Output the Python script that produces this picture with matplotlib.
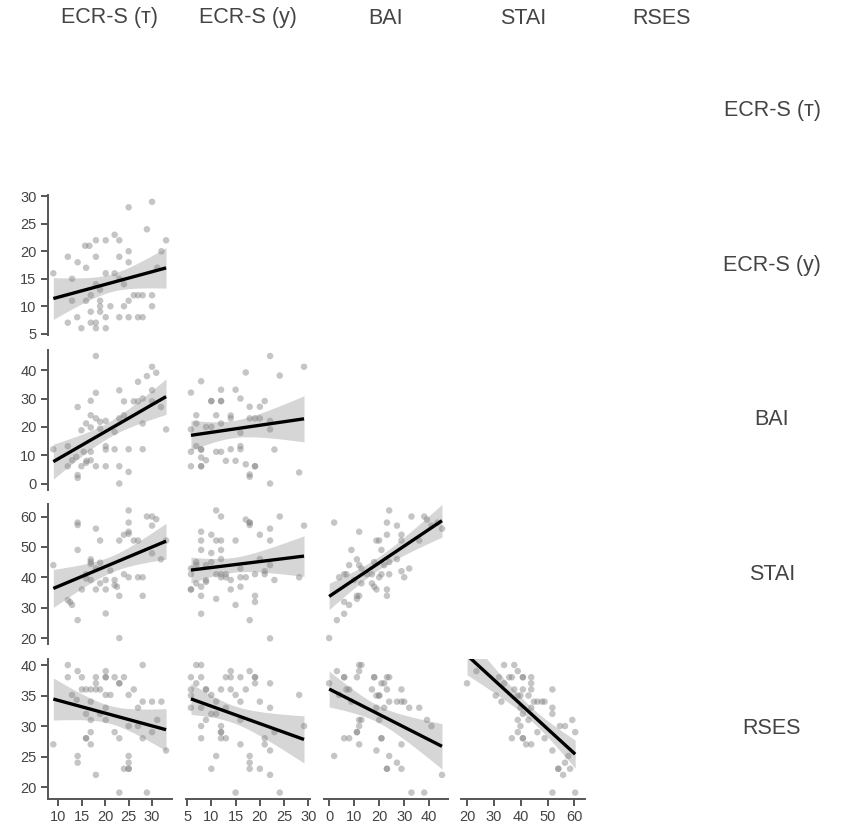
import numpy as np
import matplotlib
matplotlib.use("Agg")
import matplotlib.pyplot as plt

plt.rcParams['font.family'] = ['Liberation Sans', 'DejaVu Sans']

VARIABLES = ["ECR-S (т)", "ECR-S (у)", "BAI", "STAI", "RSES"]

# tick values per variable
TICKS = {
    "ECR-S (т)": [10, 15, 20, 25, 30],
    "ECR-S (у)": [5, 10, 15, 20, 25, 30],
    "BAI": [0, 10, 20, 30, 40],
    "STAI": [20, 30, 40, 50, 60],
    "RSES": [20, 25, 30, 35, 40],
}

# points (x, y) for each lower-triangle panel: (row variable, column variable)
ECRY_vs_ECRT = [(8.9,16),(12,19),(14.1,18),(12.9,15),(12.9,11),(12,7),(14,8),(14.9,6),
    (15.7,21),(16.6,21),(18,22),(15.9,17),(18,19),(15.9,11),(16.9,12),(16.9,9),(16.9,7),(18,7),
    (18,6),(18,14),(18.9,13),(18.9,11),(18.9,10),(18.9,9),(20.1,22),(20.1,16),(20.1,8),(20.1,6),
    (21.1,10),(22,23),(23,22),(22,16),(23,15),(24,14),(23,19),(23,8),(24,10),(25,20),
    (25,18),(25,28),(25,11),(25,8),(26.1,12),(27,12),(28,12),(27,8),(28,8),(28.9,24),
    (30,29),(30,12),(30,10),(31.1,17),(32,20),(33,22)]

BAI_vs_ECRT = [(8.9,12.1),(12,13.2),(12,6.1),(14.1,27),(12.9,8.2),(13.8,9.4),(14.1,3),(14.1,2),
    (14.9,18.8),(15.4,11.2),(14.9,6.1),(15.9,21.2),(15.9,7.3),(16,8),(16.9,29.2),(16.9,24.1),
    (16.9,19.8),(16.9,11.2),(16.9,8.2),(18,45),(18,32),(18,23),(18,6.1),(18.9,19.4),(18.9,21.8),
    (20.1,22.1),(20.1,13.2),(20.1,12),(20.1,6.1),(22,18.2),(22,12.1),(23,32.9),(23,23),(23,6.1),
    (23,0),(24,29),(24,24.1),(25,12.1),(25,4.1),(26.1,29),(27,35.9),(27,29),(28,30),(28,21.2),
    (28,12.1),(28.9,37.9),(30,41.2),(30,32.9),(30.9,39.1),(31.9,27),(33,19.1),(30,29)]

BAI_vs_ECRY = [(22.1,45),(29.1,41.2),(17.1,39.2),(24.1,38.1),(7.9,36.1),(5.8,32.1),(12,33.1),
    (15,33.1),(10,29.1),(10,29.1),(12,29.1),(12,29.1),(16,30),(17.9,27.1),(20,27.1),(21,29.1),(6.9,24.1),
    (11,24.1),(14,24),(14,23),(17.9,23),(19,23),(20,23),(22.1,22.1),(6.9,21.2),(5.8,19.1),
    (8.9,20),(10,20),(12,21.2),(16,17.9),(22.1,19.1),(6.9,13.2),(7.9,12),(7.9,12),(5.8,11.2),(11,11.2),
    (12,11.2),(14,12.1),(16,13.2),(16,12.1),(23,12),(7.9,9.2),(8.9,8.2),(13,8),(15,8),(17.1,6.8),
    (5.8,6.1),(7.9,6.1),(7.9,6.1),(19,6.1),(19,6.1),(17.9,3.2),(17.9,2.4),(22.1,0),(28.1,3.9)]

STAI_vs_ECRT = [(8.9,44),(12,32.5),(12.5,31.8),(12.9,30.9),(14.1,58),(14.1,57.2),(14.1,49),
    (14.1,25.9),(15,36),(15.9,41),(15.9,39.6),(16.9,45.9),(16.9,45.1),(16.9,44.4),(16.9,39.1),
    (18,56),(18,36),(18,42.9),(18.9,52.1),(18.9,44.8),(18.9,38),(20.1,39.1),(20.1,36),(20.1,28.1),
    (21.1,42.2),(22,39.1),(22,37.4),(22.5,36.9),(23,52.1),(23,33.9),(23,20),(24,54),(24,41),
    (25,62),(25,58),(25,55),(25,54.3),(25,40),(26.1,52.1),(27,52.1),(27,40),(28,40),(28,33.9),
    (28.9,60),(30,60),(30,57),(30.9,59.1),(30,47.9),(31.9,45.9),(33,52.1)]

STAI_vs_ECRY = [(11,62),(12,60),(17.1,59),(17.9,58),(17.9,58),(17.9,57.2),(24.1,60),(29.1,57),
    (22.1,56),(7.9,55),(10,54),(20,54),(7.9,52.1),(11,52.1),(12,52.1),(15,52.1),(22.1,52.1),
    (7.9,49),(12,49),(10,48),(12,46),(6.9,45),(6.9,44),(10,45),(8.9,44),(20,46),(22.1,44),
    (5.8,42.9),(5.8,41),(11,41),(12,41),(13,41),(12,40),(13,40),(14,39.1),(16,42.9),(16,40),
    (17.1,40),(19,41),(21,42),(21,41),(23,39.1),(28.1,40),(6.9,38),(8.9,39),(8.9,38.5),
    (7.9,36.9),(5.8,36),(5.8,36),(14,36),(16,36.9),(7.9,33.9),(11,32.9),(19,33.9),(19,31.9),
    (15,30.9),(7.9,28),(17.9,25.9),(22.1,19.9)]

STAI_vs_BAI = [(0,20),(3.1,25.9),(6,28),(6,31.9),(8,30.9),(2,58),(11.1,32.9),(11.1,33.9),
    (12,33.9),(12,55),(8.9,49),(4,40),(6,41),(6.9,41),(8,44),(11.1,45.9),(12,44),(12.9,42.9),
    (12.9,38),(10,39.1),(15.1,41),(17.1,38),(18,36.9),(18.9,36),(17.1,41),(18.9,52.1),(20,52.1),
    (20.9,49),(18,45),(20,40),(20.9,41),(22,44),(23.1,58),(23.1,54),(23.1,36),(23.1,33.9),
    (24,62),(24,45),(24,41),(27.1,57),(27.1,46),(28.9,54),(28.9,52.1),(28.9,42),(30,40),
    (32,42.9),(32.9,60),(36,52.1),(38,60),(39.1,59),(40.9,57),(45.1,56),(43.3,58)]

RSES_vs_ECRT = [(8.9,27),(12,40),(12,38),(12.9,35.1),(13.9,34.3),(14.1,39),(14.1,25.1),(14.1,24),
    (15,38),(15,36),(15.9,36),(16.9,36),(18,36),(18.9,36),(15.9,32),(15.9,28),(15.9,28),(16.9,34),
    (16.9,31),(16.9,29),(16.9,27),(18,38),(18,37),(18,22),(18.9,32),(20.1,39),(20.1,38),(20.1,38),
    (20.1,35.1),(21.1,35.1),(20.1,33),(20.1,31),(22,38),(22,29),(23,37),(23,37),(23,28),(23,19.1),
    (24,38),(24,23),(25,23),(25,23),(25,35.1),(25,30),(25,25.1),(25,24),(26.1,36),(27,33),(27,30),
    (28,40),(28,34),(28,28),(28.9,19.1),(30,34),(30,29),(31.1,31),(32,34),(33,26)]

RSES_vs_ECRY = [(6.9,40),(7.9,40),(5.8,38),(7.9,38),(6.9,37),(5.8,36),(5.8,35),(5.8,33),
    (8.9,36),(8.9,36),(10,35.1),(7.9,33),(11,34),(10,32),(11,32),(8.9,31),(7.9,30),(7.9,28),(12,36),
    (13,38),(14,38),(14,39),(14,36),(13,33),(15,35.1),(16,38),(16,34),(17.1,36),(17.9,39),
    (19,38),(19,38),(19,37),(20,34),(22.1,37),(22.1,33),(12,30),(12,29),(12,29),(12,28),(13,28),(16,31),
    (16,27),(11,25.1),(10,23),(17.9,25.1),(17.9,24),(17.9,23),(20,23),(21,28),(21,27),
    (22.1,26),(22.1,22),(23,29),(28.1,35.1),(29.1,30),(15,19.1),(24.1,19.1)]

RSES_vs_BAI = [(0,37),(2,25.1),(3.1,39),(6,38),(6,38),(6.9,36),(8,36),(4,35.1),(6,28),(8,28),
    (11.1,38),(12,40),(12.9,40),(12,39),(8.9,34),(12,31),(12.9,31),(12,30),(11.1,29),(11.1,29),(12,27),
    (18,38),(18,38),(17.1,36),(18.9,35),(20,35),(20,35),(20.9,37),(22,37),(23.1,38),(24,38),(23.1,36),
    (24,34),(18.9,33),(22,33),(20,31),(20.9,28),(20.9,28),(18.9,26),(24,25.1),(23.1,23),(23.1,23),
    (27.1,34),(28.9,34),(30,34),(28.9,36),(27.1,24),(28.9,23),(28.9,27),(32,33),(36,33),
    (39.1,31),(40.9,30),(32.9,19.1),(38,19.1),(45.1,22)]

RSES_vs_STAI = [(20,37),(23.5,39),(33.8,40),(37.6,40),(38.9,39),(31.9,38),(35.7,38),(36.7,38),
    (40.8,38),(40.8,38),(43.9,38),(43.9,37),(43.9,36),(33.8,37),(37.6,36),(40.8,36),(39.9,35),(38.9,35),
    (30.7,35),(32.8,34),(42.9,35),(44.9,34),(46.2,34),(47.9,34),(48.9,34),(51.8,36),(39.9,33),
    (43.9,33),(40.8,32),(51.8,33),(51.8,32),(38.9,31),(42.9,31),(39.9,30),(38.9,29),(46.2,29),
    (36.7,28),(40.8,28),(40.8,28),(42,27),(43.9,27),(48.9,28),(54.6,30),(56.5,30),(59.2,31),(60.3,29),
    (51.8,26),(57.7,25.1),(56.5,24),(54,23),(54,23),(58.4,23),(55.8,22),(51.8,19.1),(60.3,19.1)]

PANELS = {
    (1, 0): ECRY_vs_ECRT,
    (2, 0): BAI_vs_ECRT, (2, 1): BAI_vs_ECRY,
    (3, 0): STAI_vs_ECRT, (3, 1): STAI_vs_ECRY, (3, 2): STAI_vs_BAI,
    (4, 0): RSES_vs_ECRT, (4, 1): RSES_vs_ECRY, (4, 2): RSES_vs_BAI, (4, 3): RSES_vs_STAI,
}

# ---------------- layout / style ----------------
W, H = 841, 836
LIMS = {
    "ECR-S (т)": (7.7, 34.2),
    "ECR-S (у)": (4.7, 30.25),
    "BAI": (-2.25, 47.3),
    "STAI": (17.9, 64.1),
    "RSES": (18.05, 41.05),
}
col_left0, col_pitch, ax_w = 47.7, 137.9, 124.0
row_top0, row_pitch, ax_h = 40.4, 154.55, 140.4
GREY = "#555555"
TXT = "#444444"

fig = plt.figure(figsize=(W / 100, H / 100), dpi=100)

def ci_band(x, y, xs, t=2.01):
    b1, b0 = np.polyfit(x, y, 1)
    n = len(x)
    resid = y - (b0 + b1 * x)
    s = np.sqrt(np.sum(resid ** 2) / (n - 2))
    sxx = np.sum((x - x.mean()) ** 2)
    se = s * np.sqrt(1.0 / n + (xs - x.mean()) ** 2 / sxx)
    yh = b0 + b1 * xs
    return yh, yh - t * se, yh + t * se

for (r, c), pts in PANELS.items():
    left = col_left0 + c * col_pitch
    top = row_top0 + r * row_pitch
    ax = fig.add_axes([left / W, 1 - (top + ax_h) / H, ax_w / W, ax_h / H])
    arr = np.array(pts, dtype=float)
    x, y = arr[:, 0], arr[:, 1]
    ax.scatter(x, y, s=22, color="#808080", alpha=0.45, edgecolors="none", zorder=2)
    xs = np.linspace(x.min(), x.max(), 100)
    yh, lo, hi = ci_band(x, y, xs)
    ax.fill_between(xs, lo, hi, color="black", alpha=0.16, linewidth=0, zorder=1)
    ax.plot(xs, yh, color="black", lw=2.4, zorder=3, solid_capstyle="butt")
    vx, vy = VARIABLES[c], VARIABLES[r]
    ax.set_xlim(*LIMS[vx])
    ax.set_ylim(*LIMS[vy])
    for s in ("top", "right"):
        ax.spines[s].set_visible(False)
    if c == 0:
        ax.spines["left"].set_color(GREY)
        ax.spines["left"].set_linewidth(1.4)
        ax.set_yticks(TICKS[vy])
        ax.tick_params(axis="y", direction="out", length=5, width=1.4, color=GREY,
                       labelcolor=TXT, labelsize=10.5, pad=3)
    else:
        ax.spines["left"].set_visible(False)
        ax.set_yticks([])
    if r == 4:
        ax.spines["bottom"].set_color(GREY)
        ax.spines["bottom"].set_linewidth(1.4)
        ax.set_xticks(TICKS[vx])
        ax.tick_params(axis="x", direction="out", length=5, width=1.4, color=GREY,
                       labelcolor=TXT, labelsize=10.5, pad=3)
    else:
        ax.spines["bottom"].set_visible(False)
        ax.set_xticks([])
    ax.patch.set_alpha(0)

for i, name in enumerate(VARIABLES):
    cx = col_left0 + i * col_pitch + ax_w / 2
    fig.text(cx / W, 1 - 18 / H, name, ha="center", va="center", fontsize=15.5, color=TXT)
    cy = row_top0 + i * row_pitch + ax_h / 2
    fig.text(772 / W, 1 - cy / H, name, ha="center", va="center", fontsize=15.5, color=TXT)

fig.savefig("out.png", dpi=100)
